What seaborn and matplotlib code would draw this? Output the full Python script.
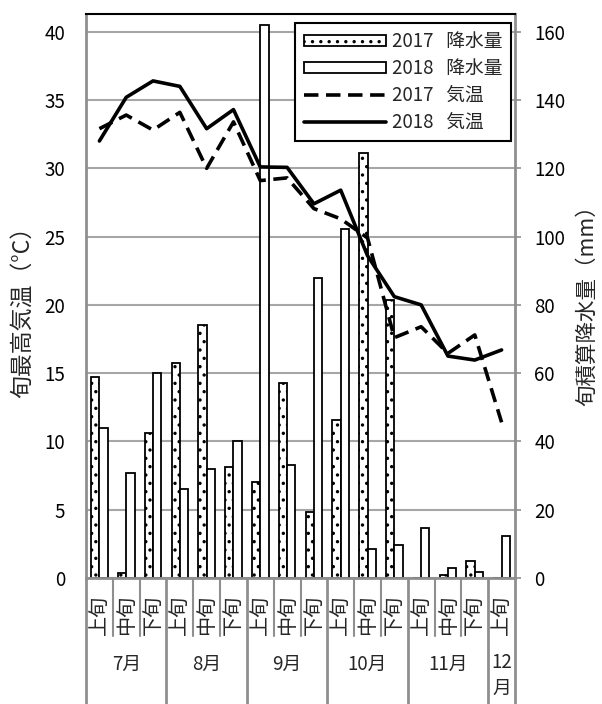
import numpy as np
import pandas as pd
import matplotlib
matplotlib.use('Agg')
import matplotlib.pyplot as plt
import matplotlib.transforms as mtransforms
import seaborn as sns
from matplotlib.patches import Patch
from matplotlib.lines import Line2D

# ---------------- data ----------------
months = ['7月', '8月', '9月', '10月', '11月', '12\n月']
month_len = [3, 3, 3, 3, 3, 1]
dekads = ['上旬', '中旬', '下旬'] * 5 + ['上旬']

precip_2017 = [59.0, 1.6, 42.5, 63.0, 74.0, 32.6, 28.2, 57.1, 19.4, 46.4, 124.5, 81.4, 0.0, 0.9, 5.0, 0.0]
precip_2018 = [44.0, 30.8, 60.0, 26.2, 32.0, 40.0, 162.0, 33.0, 88.0, 102.3, 8.4, 9.7, 14.5, 2.8, 1.8, 12.4]
temp_2017 = [32.9, 33.9, 32.8, 34.1, 30.0, 33.4, 29.1, 29.3, 27.05, 26.3, 24.9, 17.6, 18.4, 16.45, 17.8, 11.4]
temp_2018 = [32.0, 35.2, 36.4, 36.0, 32.9, 34.3, 30.1, 30.07, 27.4, 28.4, 23.6, 20.6, 20.0, 16.25, 15.96, 16.7]

series_labels = ['2017   降水量', '2018   降水量', '2017   気温', '2018   気温']
temp_ticks = list(range(0, 41, 5))
precip_ticks = list(range(0, 161, 20))

# ---------------- style ----------------
sns.set_theme(style='white')
plt.rcParams['font.family'] = ['Noto Sans CJK JP', 'DejaVu Sans']
plt.rcParams['hatch.linewidth'] = 1.2
plt.rcParams['hatch.color'] = 'black'

GRAY = '#8f8f8f'
GRID = '#a6a6a6'
FS = 13.5

fig = plt.figure(figsize=(6.02, 7.04), dpi=100)
ax_p = fig.add_axes([86 / 602, 126 / 704, 429 / 602, 564 / 704])
ax_t = ax_p.twinx()

# keys for categorical x
month_of = []
for m, n in zip(months, month_len):
    month_of += [m] * n
keys = [f'{m}{d}' for m, d in zip(month_of, dekads)]
n = len(keys)
pos = list(range(n))

df_p = pd.DataFrame({
    'key': keys * 2,
    'mm': precip_2017 + precip_2018,
    'year': ['2017'] * n + ['2018'] * n,
})
sns.barplot(data=df_p, x='key', y='mm', hue='year', order=keys,
            hue_order=['2017', '2018'], palette=['white', 'white'],
            saturation=1, width=0.62, edgecolor='black', linewidth=1.3,
            ax=ax_p, legend=False)
for bar in ax_p.containers[0]:
    bar.set_hatch('..')

df_t = pd.DataFrame({
    'pos': pos * 2,
    'temp': temp_2017 + temp_2018,
    'year': ['2017'] * n + ['2018'] * n,
})
sns.lineplot(data=df_t, x='pos', y='temp', style='year',
             style_order=['2017', '2018'],
             dashes={'2017': (4, 2.1), '2018': ''},
             color='black', linewidth=2.6, ax=ax_t, legend=False)

# ---------------- axes ----------------
ax_p.set_xlim(-0.5, n - 0.5)
ax_p.set_ylim(0, 165.2)
ax_t.set_ylim(0, 41.3)
ax_p.set_yticks(precip_ticks)
ax_t.set_yticks(temp_ticks)
ax_p.set_xlabel('')
ax_p.set_ylabel('')
ax_t.set_xlabel('')
ax_t.set_ylabel('')

ax_p.yaxis.tick_right()
ax_p.tick_params(axis='y', left=False, right=True, labelleft=False, labelright=True,
                 length=4, width=1.2, color=GRAY, pad=10, labelsize=FS, labelcolor='black')
ax_t.yaxis.tick_left()
ax_t.tick_params(axis='y', left=True, right=False, labelleft=True, labelright=False,
                 length=0, pad=15, labelsize=FS, labelcolor='black')

ax_p.yaxis.grid(True, color=GRID, linewidth=1.5)
ax_p.xaxis.grid(False)
ax_p.set_axisbelow(True)

for s in ax_t.spines.values():
    s.set_visible(False)
for name in ['left', 'right', 'bottom']:
    ax_p.spines[name].set_color(GRAY)
    ax_p.spines[name].set_linewidth(2)
ax_p.spines['top'].set_color('black')
ax_p.spines['top'].set_linewidth(1.5)

# dekad labels
ax_p.set_xticks(pos)
ax_p.set_xticklabels(dekads, rotation=90, fontsize=14.5)
ax_p.tick_params(axis='x', length=0, pad=12)

# category table lines & month labels
trans = mtransforms.blended_transform_factory(ax_p.transData, ax_p.transAxes)
row1 = (578 - 636) / 564
row2 = (578 - 704) / 564
bounds = []
start = 0
for m, L in zip(months, month_len):
    bounds.append(start - 0.5)
    ax_p.text(start + (L - 1) / 2, (578 - (664 if L > 1 else 675.5)) / 564, m,
              transform=trans, ha='center', va='center', fontsize=FS,
              linespacing=1.3)
    start += L
bounds.append(start - 0.5)
for i in range(n - 1):
    b = i + 0.5
    if b in bounds:
        continue
    ax_p.plot([b, b], [0, row1], transform=trans, color=GRAY, lw=1.5, clip_on=False)
for b in bounds:
    ax_p.plot([b, b], [0, row2], transform=trans, color=GRAY, lw=2, clip_on=False)

# axis titles
fig.text(23 / 602, 1 - 306 / 704, '旬最高気温（°C）', rotation=90,
         ha='center', va='center', fontsize=16.5)
fig.text(587 / 602, 1 - 300 / 704, '旬積算降水量（mm）', rotation=90,
         ha='center', va='center', fontsize=15.5)

# legend
handles = [
    Patch(facecolor='white', edgecolor='black', hatch='..', linewidth=1.3),
    Patch(facecolor='white', edgecolor='black', linewidth=1.3),
    Line2D([], [], color='black', lw=2.6, dashes=(4, 2.1)),
    Line2D([], [], color='black', lw=2.6),
]
leg = ax_t.legend(handles, series_labels, loc='upper right',
                  bbox_to_anchor=(510.7 / 602, 1 - 22.7 / 704),
                  bbox_transform=fig.transFigure, borderaxespad=0,
                  fontsize=FS, handlelength=4.4, handleheight=0.5,
                  handletextpad=0.3, labelspacing=0.31, borderpad=0.45,
                  fancybox=False, framealpha=1, edgecolor='black')
leg.get_frame().set_linewidth(1.5)

fig.savefig('out.png', dpi=100)
